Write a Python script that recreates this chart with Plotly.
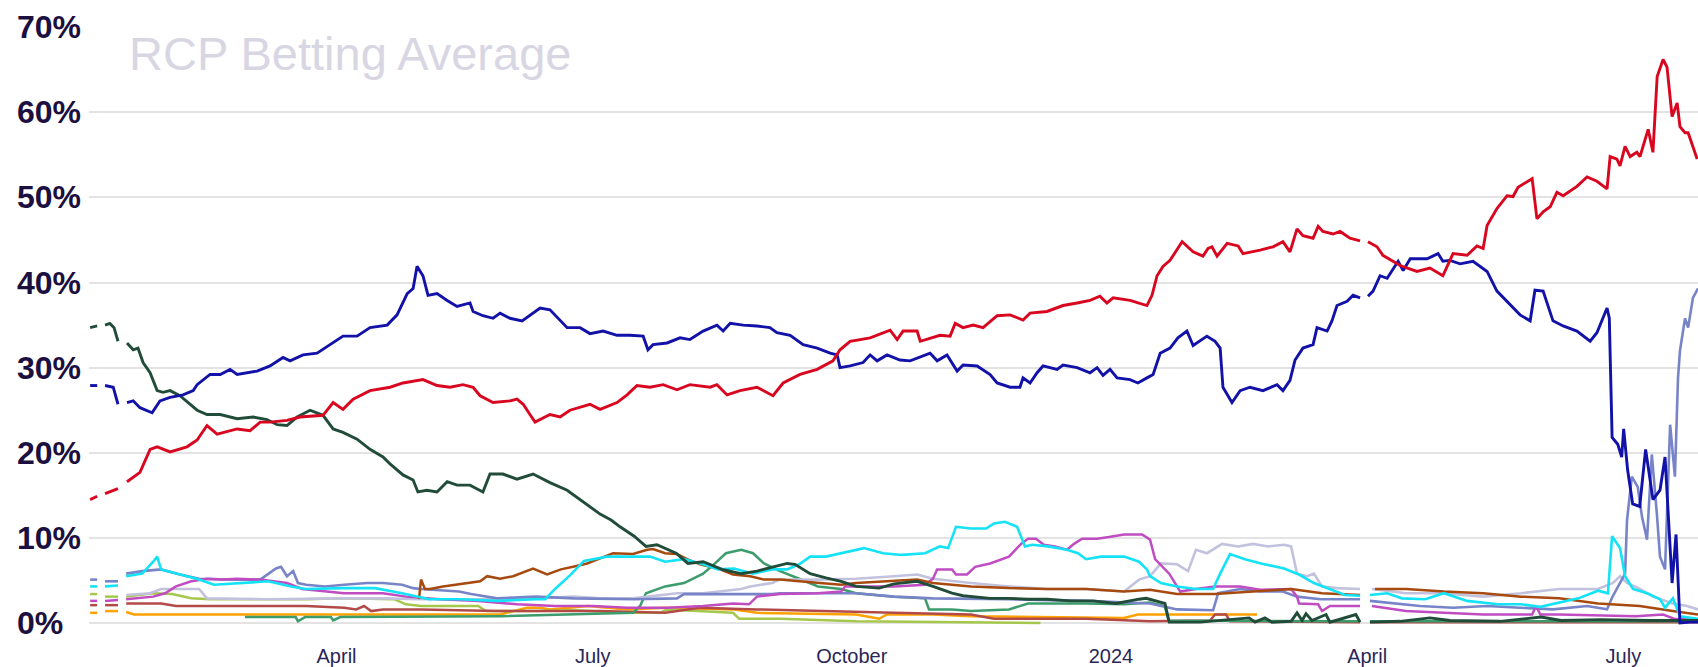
import pandas as pd
import plotly.graph_objects as go

BASE = pd.Timestamp("2023-01-01")

# x: days since 2023-01-01, y: betting average (%). None = gap in the data
TICK_DATES = ["2023-04-01", "2023-07-01", "2023-10-01", "2024-01-01", "2024-04-01", "2024-07-01"]
TICK_TEXT = ["April", "July", "October", "2024", "April", "July"]
Y_TICKS = [0, 10, 20, 30, 40, 50, 60, 70]

TRUMP = [(2.5,14.5),(5.0,14.9),(6.3,None),(7.8,15.2),(12.4,15.8),(13.7,None),(15.6,16.6),(20.2,17.7),(23.8,20.4),(26.3,20.7),(30.9,20.1),(36.9,20.7),(40.5,21.5),(44.0,23.2),(47.6,22.2),(54.7,22.8),(59.3,22.6),(62.9,23.6),(66.4,23.6),(72.4,23.8),(77.0,24.2),(85.2,24.4),(88.8,25.9),(92.3,25.1),(95.9,26.3),(101.9,27.3),(109.0,27.7),(113.6,28.2),(120.7,28.6),(125.7,27.9),(130.3,27.7),(134.9,28.0),(138.5,27.7),(141.0,26.7),(145.6,25.9),(151.7,26.1),(154.1,26.3),(156.3,25.7),(158.7,24.5),(160.5,23.6),(165.8,24.5),(169.4,24.2),(172.9,25.0),(180.0,25.7),(183.6,25.1),(189.6,25.9),(193.2,26.8),(196.7,27.9),(201.3,27.7),(206.0,28.0),(210.9,27.4),(215.5,28.0),(222.7,27.7),(225.1,28.0),(228.7,26.8),(233.3,27.3),(239.3,27.7),(245.0,26.7),(248.6,28.2),(254.6,29.2),(260.7,29.8),(266.3,30.8),(268.8,32.1),(272.4,33.1),(279.5,33.5),(284.1,34.1),(286.6,34.4),(289.1,33.3),(291.2,34.3),(296.2,34.3),(297.3,33.1),(304.3,33.8),(307.9,33.7),(309.7,35.2),(312.5,34.7),(316.1,35.0),(319.6,34.7),(324.6,36.1),(329.2,36.2),(333.8,35.6),(336.3,36.4),(342.3,36.6),(348.0,37.3),(353.0,37.6),(357.6,37.9),(361.1,38.4),(363.6,37.6),(365.8,38.2),(371.8,37.9),(377.8,37.3),(379.6,38.5),(381.4,40.8),(383.5,41.9),(386.0,42.6),(390.3,44.8),(394.2,43.6),(397.7,43.1),(399.5,44.0),(400.9,44.2),(402.7,43.1),(406.3,44.6),(410.2,44.3),(411.9,43.4),(418.0,43.8),(422.6,44.2),(426.1,44.8),(428.6,43.6),(431.1,46.3),(433.2,45.5),(436.8,45.2),(438.6,46.6),(440.3,46.0),(443.9,45.7),(446.4,46.0),(449.9,45.2),(453.5,44.9),(455.0,None),(456.3,44.8),(459.5,44.2),(461.6,43.2),(467.7,42.0),(473.7,41.3),(478.3,41.7),(482.9,40.8),(486.5,43.4),(491.5,43.2),(495.0,44.3),(497.2,44.0),(498.6,46.7),(502.1,48.7),(505.7,50.2),(507.8,50.1),(509.6,51.2),(514.6,52.2),(516.3,47.5),(518.5,48.3),(521.0,48.9),(523.4,50.6),(525.6,50.2),(530.5,51.3),(534.1,52.4),(537.6,51.9),(541.2,51.0),(542.3,54.8),(544.7,54.5),(545.8,53.7),(547.6,56.0),(549.4,54.8),(551.8,55.3),(552.9,54.8),(554.7,56.8),(555.8,58.0),(557.5,55.3),(559.0,64.2),(561.1,66.2),(562.5,65.3),(564.3,59.5),(566.1,61.1),(567.1,58.3),(568.9,57.6),(570.0,57.6),(573.2,54.5)]

BIDEN = [(2.5,27.9),(5.0,27.9),(6.3,None),(7.8,27.9),(10.7,27.7),(12.4,25.7),(13.7,None),(15.6,25.9),(17.8,26.1),(20.2,25.3),(24.5,24.7),(27.3,26.1),(30.9,26.5),(35.5,26.8),(39.1,27.3),(40.5,28.0),(45.1,29.2),(48.7,29.2),(52.2,29.8),(54.7,29.2),(61.8,29.6),(66.4,30.2),(71.0,31.2),(73.5,30.8),(78.1,31.5),(83.1,31.7),(87.7,32.7),(92.3,33.7),(97.3,33.7),(101.9,34.7),(108.0,35.0),(111.5,36.2),(115.1,38.7),(117.2,39.3),(118.6,41.9),(120.7,40.8),(122.5,38.5),(125.7,38.7),(129.3,37.9),(132.8,37.2),(137.4,37.6),(138.5,36.6),(142.0,36.1),(145.6,35.8),(148.1,36.4),(151.6,35.8),(155.9,35.5),(158.7,36.2),(162.3,37.0),(165.8,36.8),(169.4,35.5),(171.9,34.7),(176.5,34.7),(180.0,34.0),(184.7,34.3),(189.6,33.8),(194.2,33.8),(198.9,33.7),(200.6,32.1),(202.4,32.7),(207.4,32.9),(212.0,33.5),(215.5,33.3),(220.2,34.3),(225.1,35.0),(227.3,34.3),(229.8,35.2),(234.4,35.0),(239.3,34.9),(243.9,34.7),(246.4,34.1),(251.1,33.8),(255.7,32.7),(260.7,32.3),(265.3,31.7),(267.8,31.5),(268.8,30.0),(272.4,30.2),(277.0,30.6),(279.5,31.5),(282.0,30.8),(285.5,31.5),(290.1,30.9),(293.7,30.8),(300.8,31.7),(303.3,30.8),(306.8,31.5),(310.4,29.6),(312.5,30.3),(317.5,30.2),(322.1,29.2),(324.6,28.2),(329.2,27.7),(332.7,27.7),(333.8,28.8),(336.3,28.2),(338.8,29.4),(340.9,30.2),(345.9,29.8),(348.0,30.3),(353.0,30.0),(357.6,29.4),(360.1,30.0),(362.2,29.1),(364.7,29.8),(367.2,28.8),(371.8,28.6),(374.6,28.2),(377.8,28.8),(380.0,29.2),(382.5,31.7),(386.0,32.3),(388.8,33.5),(392.0,34.3),(394.2,32.6),(399.1,33.7),(402.0,33.1),(403.8,32.3),(404.8,27.7),(408.0,25.9),(410.9,27.3),(414.4,27.7),(419.0,27.3),(424.0,28.0),(426.1,27.3),(428.6,28.5),(430.4,30.9),(433.2,32.3),(436.8,32.7),(438.2,34.7),(441.8,34.3),(443.5,35.5),(445.3,37.3),(448.9,37.8),(451.0,38.5),(453.5,38.2),(455.0,None),(456.3,38.4),(458.1,39.0),(460.6,40.8),(463.1,40.5),(467.0,42.5),(468.8,41.4),(471.3,42.8),(477.3,42.8),(481.2,43.4),(482.9,42.5),(485.4,42.6),(489.0,42.2),(493.6,42.5),(498.6,41.3),(502.1,39.0),(505.7,37.8),(510.3,36.2),(513.9,35.5),(515.6,39.1),(518.5,39.0),(522.0,35.5),(525.6,34.9),(530.5,34.3),(535.2,33.1),(537.6,34.1),(541.2,37.0),(542.0,35.8),(543.0,21.8),(545.0,21.0),(546.4,19.5),(547.1,22.8),(548.5,18.0),(550.3,14.0),(552.8,13.7),(554.9,20.4),(557.5,14.5),(560.0,15.6),(561.8,19.5),(564.3,4.7),(565.7,10.4),(567.1,0.0),(570.6,0.1),(573.5,0.1)]

DESANTIS = [(2.5,34.7),(5.0,34.9),(6.3,None),(7.8,35.0),(9.5,35.2),(11.0,34.7),(12.4,33.1),(13.7,None),(15.6,32.9),(17.8,32.1),(19.5,32.3),(21.3,30.6),(23.8,29.4),(26.3,27.3),(28.4,27.1),(30.9,27.3),(34.4,26.7),(38.0,25.7),(40.5,25.0),(44.0,24.5),(48.7,24.5),(54.7,24.0),(60.4,24.2),(65.3,23.9),(68.9,23.3),(72.4,23.2),(76.0,24.2),(80.6,25.0),(85.2,24.4),(88.8,22.8),(92.3,22.4),(97.3,21.6),(101.9,20.4),(106.5,19.5),(109.0,18.7),(113.6,17.4),(117.2,16.8),(118.9,15.4),(122.1,15.6),(125.7,15.4),(129.3,16.6),(132.8,16.2),(137.4,16.2),(142.0,15.4),(144.5,17.5),(149.1,17.5),(154.1,16.9),(159.8,17.5),(165.8,16.5),(171.9,15.6),(177.6,14.2),(183.6,12.8),(187.5,12.1),(190.7,11.3),(195.7,10.2),(199.9,9.0),(203.8,9.2),(210.6,8.2),(214.8,7.0),(220.2,7.2),(226.9,6.3),(233.7,5.8),(239.3,6.1),(246.1,6.7),(250.0,7.0),(252.8,6.9),(258.2,5.8),(263.8,5.3),(269.2,4.9),(274.5,4.3),(282.7,4.1),(288.0,4.6),(296.2,4.9),(301.8,4.3),(308.6,3.5),(312.5,3.2),(322.1,2.9),(328.8,2.9),(335.6,2.8),(342.3,2.8),(350.5,2.6),(358.7,2.6),(366.8,2.3),(375.0,2.8),(377.5,2.9),(384.2,2.3),(385.7,0.1),(396.7,0.1),(414.1,0.6),(416.2,0.1),(419.7,0.6),(422.2,0.1),(429.0,0.2),(431.1,1.2),(432.9,0.3),(434.3,1.1),(436.4,0.3),(441.4,1.0),(442.8,0.1),(452.0,1.0),(453.5,0.1),(455.0,None),(457.0,0.1),(467.7,0.2),(478.3,0.6),(485.4,0.3),(503.2,0.2),(517.8,0.7),(524.9,0.3),(539.1,0.4),(556.5,0.3),(573.5,0.3)]

NEWSOM = [(2.5,4.3),(5.0,4.3),(6.3,None),(7.8,4.3),(12.4,4.4),(13.7,None),(15.3,5.5),(21.0,5.8),(24.9,7.2),(26.3,7.8),(27.7,6.3),(33.0,5.8),(41.2,5.1),(46.5,4.5),(57.5,4.7),(65.7,4.9),(73.9,4.3),(79.2,4.0),(92.7,4.1),(103.7,4.1),(113.3,3.5),(122.9,2.8),(133.5,2.8),(147.0,2.6),(160.9,2.8),(164.1,2.8),(167.6,4.0),(172.9,5.6),(177.9,7.3),(186.1,7.8),(193.2,7.8),(201.3,7.8),(206.7,7.2),(213.4,7.5),(220.2,6.9),(225.5,6.3),(231.2,6.4),(237.9,5.8),(244.7,6.3),(250.0,6.3),(254.3,6.9),(258.2,7.8),(263.8,7.8),(269.2,8.2),(277.3,8.8),(284.1,8.2),(290.8,8.0),(299.0,8.2),(304.3,9.0),(307.2,8.8),(310.0,11.3),(315.3,11.1),(320.7,11.1),(323.5,11.7),(327.4,11.9),(331.7,11.3),(334.5,9.0),(337.0,9.2),(342.7,9.0),(349.4,8.6),(353.3,8.2),(356.2,7.5),(361.5,7.8),(369.7,7.8),(375.0,7.2),(377.8,6.3),(378.9,5.5),(382.8,4.7),(388.5,4.3),(395.2,4.0),(401.3,4.0),(403.8,5.8),(407.3,8.1),(412.6,7.5),(418.3,7.0),(426.5,6.4),(431.8,5.7),(437.1,4.7),(442.8,4.0),(448.2,3.3),(453.5,3.2),(455.0,None),(457.0,3.3),(463.1,3.5),(468.4,2.9),(476.6,2.8),(483.3,3.5),(491.5,2.6),(502.5,2.2),(510.7,2.2),(517.5,1.9),(524.2,2.4),(531.0,2.9),(538.0,3.8),(541.5,3.5),(543.0,10.2),(545.8,8.8),(547.6,5.5),(550.4,4.0),(555.4,3.5),(560.0,2.8),(561.8,1.8),(564.6,2.9),(567.1,0.8),(573.5,0.5)]

KENNEDY = [(119.3,2.8),(120.0,5.1),(121.4,4.0),(123.2,4.0),(127.8,4.3),(136.4,4.7),(141.0,4.9),(143.5,5.5),(148.1,5.2),(152.7,5.5),(157.7,6.1),(159.8,6.4),(164.8,5.7),(169.7,6.3),(174.0,6.6),(179.0,7.0),(183.6,7.6),(188.2,8.2),(195.3,8.1),(200.3,8.6),(202.4,8.7),(206.7,8.2),(210.9,8.1),(214.5,7.5),(219.1,6.9),(226.2,6.3),(230.8,5.7),(236.9,5.5),(241.8,5.1),(247.5,5.1),(254.3,4.9),(261.0,4.7),(269.2,4.5),(274.5,4.7),(288.0,4.9),(296.2,5.1),(301.8,4.7),(308.6,4.5),(315.3,4.3),(328.8,4.1),(342.3,4.0),(356.2,4.0),(369.7,3.7),(378.9,3.9),(388.5,3.4),(402.0,3.4),(415.5,3.7),(429.0,4.0),(440.0,3.5),(449.6,3.4),(453.5,3.3),(455.0,None),(458.8,4.0),(469.8,4.0),(483.3,3.7),(497.2,3.5),(510.7,3.1),(524.2,2.9),(538.0,2.3),(542.3,2.2),(552.8,2.0),(564.5,1.4),(573.5,1.0)]

HALEY = [(2.5,2.6),(5.0,2.6),(6.3,None),(7.8,2.6),(12.4,2.7),(13.7,None),(15.3,2.8),(24.9,3.1),(29.1,3.5),(33.0,4.3),(38.4,4.9),(44.0,5.2),(49.4,5.1),(54.7,5.2),(62.9,5.1),(68.5,4.9),(72.4,4.7),(77.8,4.0),(92.7,3.5),(106.5,3.5),(114.7,3.1),(126.8,2.8),(140.3,2.6),(154.1,2.2),(167.6,2.0),(181.1,2.0),(193.2,1.8),(207.4,1.8),(220.2,2.0),(230.8,2.3),(236.5,2.2),(239.3,3.1),(247.5,3.4),(261.0,3.5),(269.2,3.7),(270.6,4.3),(288.0,4.3),(299.0,4.5),(301.8,5.2),(303.3,6.3),(308.6,6.3),(310.0,5.7),(313.9,5.7),(316.8,6.6),(322.1,7.0),(328.8,7.8),(333.1,9.3),(335.6,9.9),(338.4,9.9),(341.2,9.2),(345.2,9.0),(349.4,8.6),(351.9,9.3),(354.8,9.9),(360.1,9.9),(364.3,10.1),(369.7,10.4),(376.1,10.4),(378.9,9.8),(380.7,7.5),(385.7,5.8),(388.5,4.3),(389.6,3.7),(395.2,4.0),(402.0,4.3),(410.9,4.3),(418.0,3.9),(429.0,4.0),(431.1,3.1),(431.8,2.3),(438.6,2.2),(440.0,1.4),(442.8,2.0),(453.5,2.0),(455.0,None),(457.7,2.0),(469.8,1.4),(483.3,1.2),(497.2,1.0),(514.6,1.0),(516.0,2.0),(517.5,1.0),(524.2,1.0),(551.4,0.8),(561.1,1.0),(565.0,0.5),(573.5,0.4)]

HARRIS = [(2.5,5.1),(5.0,5.1),(6.3,None),(7.8,4.9),(12.4,4.9),(13.7,None),(15.3,5.8),(21.0,6.1),(27.7,6.3),(34.4,5.7),(41.2,5.2),(52.2,5.1),(62.9,5.1),(68.5,6.4),(70.3,6.6),(72.4,5.5),(74.6,6.1),(76.3,4.7),(79.2,4.5),(85.9,4.3),(92.7,4.5),(100.9,4.7),(106.5,4.7),(113.3,4.5),(117.2,4.1),(120.0,4.0),(133.5,3.7),(137.8,3.4),(147.0,2.9),(160.9,3.1),(174.4,2.9),(195.3,2.8),(210.9,2.9),(213.4,3.4),(244.7,3.4),(247.5,3.5),(274.5,3.5),(288.0,3.1),(301.8,2.9),(328.8,2.8),(356.2,2.6),(378.9,2.3),(388.5,1.6),(401.3,1.5),(403.1,3.5),(410.9,4.0),(418.0,3.7),(426.1,3.7),(431.1,3.1),(439.5,2.8),(453.5,2.8),(455.0,None),(457.0,2.6),(467.7,2.2),(474.8,2.0),(486.5,1.8),(498.6,2.0),(510.3,1.8),(522.0,1.6),(534.1,2.0),(541.2,1.6),(543.0,3.0),(547.6,5.8),(548.3,12.1),(550.0,17.2),(552.1,16.0),(553.6,12.5),(555.4,9.8),(557.1,19.8),(558.9,12.8),(560.0,7.8),(561.8,6.3),(563.6,23.3),(565.3,17.2),(566.4,28.8),(567.1,32.0),(568.9,35.8),(570.0,34.7),(571.7,38.2),(573.5,39.3)]

OBAMA = [(15.3,3.3),(23.8,3.5),(27.7,4.0),(41.2,4.0),(44.0,2.9),(65.7,2.8),(92.7,2.9),(106.5,2.9),(120.0,2.8),(147.0,2.8),(160.9,2.9),(174.4,3.1),(183.6,2.9),(195.3,2.9),(210.9,3.5),(220.2,3.5),(233.7,4.0),(236.9,4.3),(244.7,4.7),(247.5,5.1),(261.0,5.1),(274.5,5.2),(288.0,5.5),(296.2,5.7),(301.8,5.2),(315.3,4.7),(328.8,4.3),(342.3,4.0),(356.2,4.0),(369.7,3.7),(375.0,5.1),(378.9,5.5),(382.8,7.0),(388.5,6.9),(392.4,6.1),(395.2,8.6),(399.1,8.2),(404.5,9.3),(410.2,9.0),(415.5,9.3),(420.9,9.0),(426.5,9.2),(429.0,9.0),(431.1,5.8),(434.7,5.5),(437.1,5.8),(440.0,4.3),(445.3,4.1),(453.5,4.0),(455.0,None),(457.7,4.0),(469.8,3.5),(483.3,3.5),(497.2,3.1),(510.7,3.5),(524.2,4.0),(538.0,4.0),(543.3,4.7),(545.8,5.5),(548.3,4.7),(552.9,4.0),(557.5,3.1),(564.6,2.3),(569.6,2.0),(573.5,1.6)]

PENCE = [(2.5,3.4),(5.0,3.4),(6.3,None),(7.8,3.1),(12.4,3.1),(13.7,None),(15.3,3.1),(24.9,3.5),(31.6,3.4),(38.4,2.9),(45.1,2.8),(79.2,2.8),(92.7,2.9),(110.4,2.8),(114.7,2.2),(120.0,2.0),(140.3,2.0),(143.1,1.4),(160.9,1.4),(174.4,1.5),(193.2,1.2),(204.9,1.2),(207.4,1.6),(219.1,1.4),(230.8,1.2),(233.0,0.5),(247.5,0.5),(274.5,0.2),(315.3,0.1),(340.0,0.0)]

BUTTIGIEG = [(2.5,2.1),(5.0,2.1),(6.3,None),(7.8,2.1),(12.4,2.1),(13.7,None),(15.3,2.3),(27.7,2.3),(33.0,2.0),(79.2,2.0),(92.7,1.8),(97.0,1.6),(99.8,2.0),(102.3,1.4),(106.5,1.6),(120.0,1.6),(147.0,1.4),(183.6,1.4),(206.7,1.2),(219.1,1.8),(239.3,1.6),(261.0,1.4),(288.0,1.2),(315.3,1.0),(323.5,0.5),(356.2,0.5),(378.9,0.2),(400.2,0.3),(402.0,1.0),(405.9,1.0),(407.3,0.2),(453.5,0.1),(455.0,None),(457.0,0.1),(573.5,0.1)]

WHITMER = [(2.5,1.2),(5.0,1.2),(6.3,None),(7.8,1.4),(12.4,1.4),(13.7,None),(15.3,1.3),(18.1,1.0),(77.0,1.0),(148.1,1.0),(157.7,1.8),(162.3,1.8),(165.8,1.6),(179.3,2.0),(193.2,1.6),(206.7,1.8),(231.2,1.6),(239.3,1.2),(274.5,1.0),(282.7,0.5),(285.5,1.0),(301.8,1.0),(315.3,0.8),(356.2,0.6),(369.7,0.6),(374.6,1.0),(416.9,1.0)]

RAMASWAMY = [(57.5,0.7),(75.5,0.7),(76.3,0.2),(78.8,0.7),(88.0,0.7),(88.8,0.3),(91.3,0.7),(148.1,0.8),(195.3,1.2),(197.8,2.0),(199.9,3.5),(206.7,4.3),(213.4,4.7),(220.2,5.8),(224.4,7.0),(228.3,8.2),(233.7,8.6),(237.9,8.2),(241.8,7.0),(247.5,6.1),(254.3,5.2),(261.0,4.3),(269.2,4.0),(274.5,3.5),(288.0,3.1),(299.0,2.9),(300.4,1.6),(308.6,1.6),(315.3,1.4),(328.8,1.6),(335.6,2.3),(356.2,2.3),(369.7,2.2),(378.9,2.4),(384.1,2.0),(385.5,0.3),(453.5,0.2),(455.0,None),(457.0,0.2),(573.5,0.2)]

# drawing order: back to front
SERIES = [
    ("Whitmer", WHITMER, "#ffa200", 2.5),
    ("Pence", PENCE, "#a5c74c", 2.5),
    ("Buttigieg", BUTTIGIEG, "#b24b48", 2.5),
    ("Ramaswamy", RAMASWAMY, "#3c9c6c", 2.5),
    ("Obama", OBAMA, "#c2c2de", 2.6),
    ("Harris", HARRIS, "#7884c8", 2.6),
    ("Haley", HALEY, "#c04cc2", 2.5),
    ("Kennedy", KENNEDY, "#a64a10", 2.5),
    ("Newsom", NEWSOM, "#14e2f6", 2.6),
    ("DeSantis", DESANTIS, "#214c3a", 2.9),
    ("Biden", BIDEN, "#1212a8", 2.9),
    ("Trump", TRUMP, "#d8061f", 2.9),
]

FONT = "Liberation Sans, Arial, Helvetica, sans-serif"

fig = go.Figure()
for name, pts, color, width in SERIES:
    days = [p[0] for p in pts]
    vals = [p[1] for p in pts]
    xs = BASE + pd.to_timedelta(days, unit="D")
    fig.add_trace(go.Scatter(
        x=xs, y=vals, mode="lines", name=name,
        line=dict(color=color, width=width, shape="linear"),
        connectgaps=False, hoverinfo="skip", showlegend=False,
    ))

x_start = BASE + pd.Timedelta(days=2.1)
x_end = BASE + pd.Timedelta(days=573.5)

annotations = [
    dict(text="RCP Betting Average", xref="paper", yref="paper", x=0.0236, y=1.004,
         xanchor="left", yanchor="top", showarrow=False,
         font=dict(family=FONT, size=47, color="#d9d6e3")),
]
for v in Y_TICKS:
    annotations.append(dict(
        text=f"{v}%", xref="paper", yref="y", x=-0.046, y=v,
        xanchor="left", yanchor="middle", showarrow=False,
        font=dict(family=FONT, size=32, color="#1b1040", weight="bold"),
    ))

fig.update_layout(
    width=1698, height=667,
    margin=dict(l=89, r=0, t=27, b=37),
    paper_bgcolor="white", plot_bgcolor="white",
    showlegend=False,
    hovermode=False,
    annotations=annotations,
    xaxis=dict(
        type="date", range=[x_start, x_end],
        tickvals=TICK_DATES, ticktext=TICK_TEXT,
        showgrid=False, zeroline=False, showline=False,
        ticks="outside", ticklen=12, tickcolor="rgba(0,0,0,0)",
        tickfont=dict(family=FONT, size=20, color="#2a2657"),
    ),
    yaxis=dict(
        range=[-0.35, 70.02], tickvals=Y_TICKS,
        showticklabels=False, ticks="",
        showgrid=True, gridcolor="#e3e3e3", gridwidth=2,
        zeroline=False, showline=False,
    ),
)

fig.write_html(
    "out.html",
    config={"displayModeBar": False},
    post_script="document.body.style.margin='0';document.body.style.overflow='hidden';",
)
